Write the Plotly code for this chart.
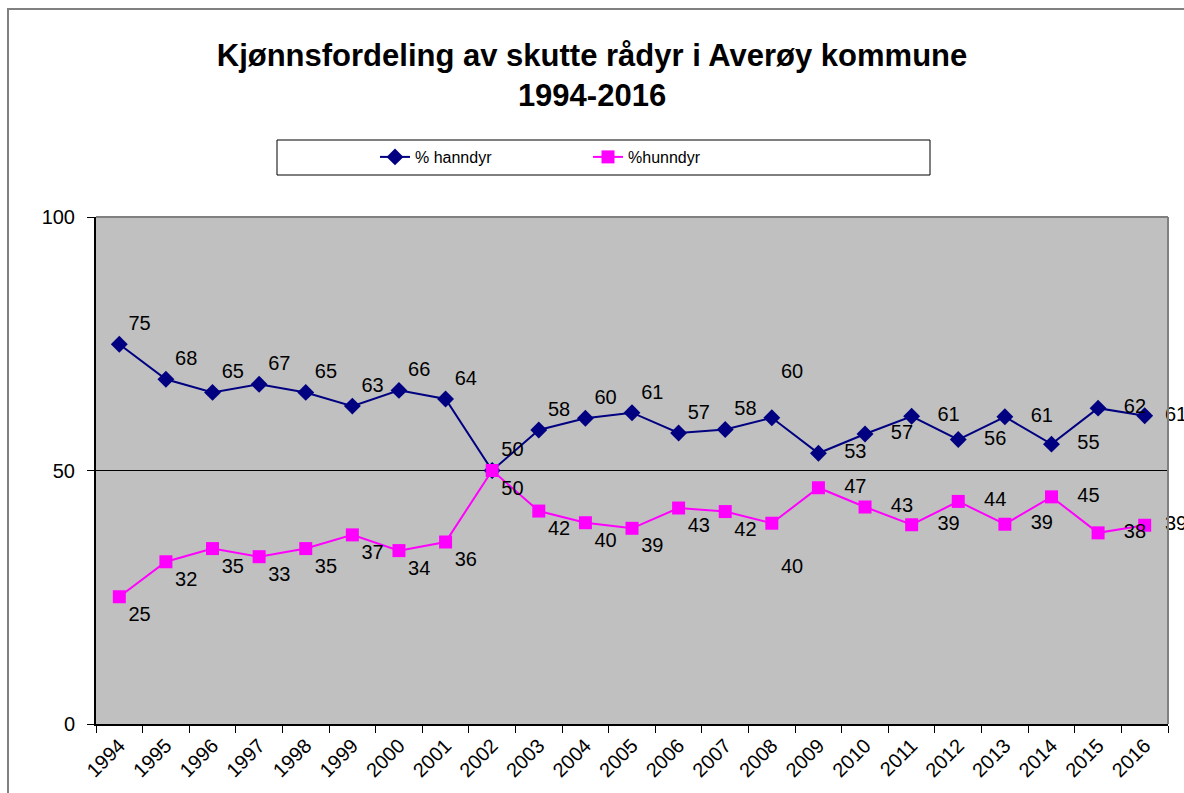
import plotly.graph_objects as go

years = [str(y) for y in range(1994, 2017)]
hanndyr = [74.9, 68.0, 65.4, 67.0, 65.4, 62.7, 65.8, 64.1, 50.0, 58.0, 60.3, 61.4, 57.4,
           58.1, 60.4, 53.4, 57.2, 60.7, 56.1, 60.6, 55.2, 62.3, 60.8]
hunndyr = [25.1, 32.0, 34.6, 33.0, 34.6, 37.3, 34.2, 35.9, 50.0, 42.0, 39.7, 38.6, 42.6,
           41.9, 39.6, 46.6, 42.8, 39.3, 43.9, 39.4, 44.8, 37.7, 39.2]
y_ticks = [0, 50, 100]

FONT = "Liberation Sans, Arial, sans-serif"
n = len(years)
split = years.index("2009")
i08 = years.index("2008")
pos_h = ["top right"] * split + ["middle right"] * (n - split)
pos_f = ["bottom right"] * split + ["middle right"] * (n - split)
tmpl_h = ["%{y:.0f}"] * split + ["   %{y:.0f}"] * (n - split)
tmpl_h[-1] = "  %{y:.0f}"
tmpl_f = list(tmpl_h)
tmpl_h[i08] = "%{y:.0f}<br> "
tmpl_f[i08] = " <br>%{y:.0f}"

fig = go.Figure()
fig.add_trace(go.Scatter(
    x=years, y=hanndyr, name="% hanndyr", mode="lines+markers+text",
    line=dict(color="#000080", width=2),
    marker=dict(symbol="diamond", size=13, color="#000080"),
    texttemplate=tmpl_h, textposition=pos_h,
    textfont=dict(family=FONT, size=20, color="black"),
    cliponaxis=False,
))
fig.add_trace(go.Scatter(
    x=years, y=hunndyr, name="%hunndyr", mode="lines+markers+text",
    line=dict(color="#FF00FF", width=2),
    marker=dict(symbol="square", size=13, color="#FF00FF"),
    texttemplate=tmpl_f, textposition=pos_f,
    textfont=dict(family=FONT, size=20, color="black"),
    cliponaxis=False,
))

L, R, T, B = 96, 1168, 217, 724
W, H = 1184, 793
pw, ph = R - L, B - T

def px(x):
    return (x - L) / pw

def py(y):
    return (B - y) / ph

shapes = [
    dict(type="rect", xref="paper", yref="paper", x0=px(8), x1=px(1210), y0=py(820), y1=py(9),
         line=dict(color="#808080", width=2), fillcolor="rgba(0,0,0,0)", layer="below"),
    dict(type="rect", xref="paper", yref="paper", x0=px(277), x1=px(930), y0=py(175), y1=py(140),
         line=dict(color="black", width=1), fillcolor="white", layer="below"),
    dict(type="line", xref="paper", yref="paper", x0=0, x1=1, y0=1, y1=1,
         line=dict(color="#808080", width=2)),
    dict(type="line", xref="paper", yref="paper", x0=1, x1=1, y0=0, y1=1,
         line=dict(color="#808080", width=2)),
]

fig.update_layout(
    width=W, height=H,
    margin=dict(l=L, r=W - R, t=T, b=H - B, autoexpand=False),
    paper_bgcolor="white", plot_bgcolor="#C0C0C0",
    font=dict(family=FONT, size=19, color="black"),
    title=dict(text="<b>Kjønnsfordeling av skutte rådyr i Averøy kommune<br>1994-2016</b>",
               x=592 / W, xanchor="center", xref="container",
               y=1 - 66 / H, yanchor="top", yref="container",
               font=dict(family=FONT, size=31, color="black")),
    showlegend=True,
    legend=dict(orientation="h", x=px(375), y=py(157), xanchor="left", yanchor="middle",
                bgcolor="rgba(0,0,0,0)", borderwidth=0,
                font=dict(family=FONT, size=16, color="black"),
                entrywidth=168, entrywidthmode="pixels"),
    shapes=shapes,
)
fig.update_xaxes(
    type="category", range=[-0.5, n - 0.5], tickson="boundaries",
    ticks="outside", ticklen=7, tickcolor="black", tickangle=-45,
    showline=True, linecolor="black", linewidth=2, showgrid=False, automargin=False,
    tickfont=dict(family=FONT, size=20, color="black"),
)
fig.update_yaxes(
    range=[0, 100], tickvals=y_ticks, ticks="outside", ticklen=7, tickcolor="black",
    showline=True, linecolor="black", linewidth=2, showgrid=True, gridcolor="black",
    gridwidth=1, zeroline=False, automargin=False, ticklabelstandoff=8,
    tickfont=dict(family=FONT, size=20, color="black"),
)

fig.write_html(
    "out.html",
    config={"displayModeBar": False},
    post_script="document.body.style.margin='0';document.body.style.overflow='hidden';",
)
